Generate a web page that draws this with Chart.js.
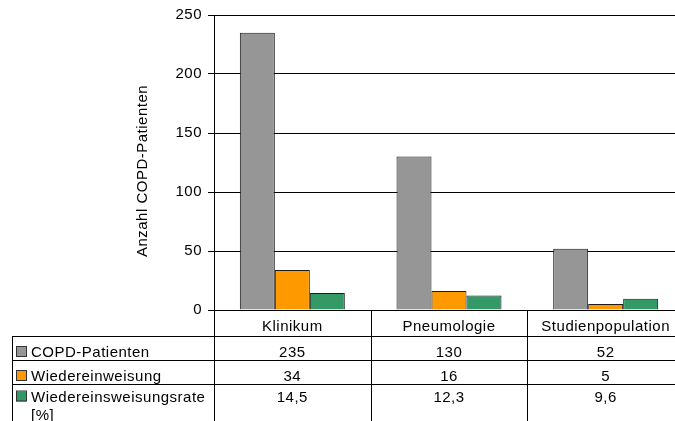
<!DOCTYPE html>
<html><head><meta charset="utf-8">
<script src="https://cdn.jsdelivr.net/npm/chart.js@4/dist/chart.umd.min.js"></script>
<style>
html,body{margin:0;padding:0;background:#fff;overflow:hidden;}
#wrap{width:675px;height:421px;overflow:hidden;position:relative;background:#fff;}
canvas{display:block;}
</style></head><body>
<div id="wrap"><canvas id="c" width="700" height="421" style="width:700px;height:421px"></canvas></div>
<script>
// ---- data ----
const categories = ['Klinikum', 'Pneumologie', 'Studienpopulation'];
const seriesNames = ['COPD-Patienten', 'Wiedereinweisung', 'Wiedereinsweisungsrate [%]'];
const copdPatienten = [235, 130, 52];
const wiedereinweisung = [34, 16, 5];
const wiedereinweisungsrate = [14.5, 12.3, 9.6];
const yTicks = [0, 50, 100, 150, 200, 250];
const yTitle = 'Anzahl COPD-Patienten';

// ---- style ----
const colors = ['#969696', '#FF9900', '#339966'];
const FAMILY = '"Liberation Sans", Arial, sans-serif';
const FSIZE = 15;
const FONT = FSIZE + 'px ' + FAMILY;
const LS = '0.5px';
const seriesData = [copdPatienten, wiedereinweisung, wiedereinweisungsrate];
const fmt = v => String(v).replace('.', ',');

function wrapText(ctx, text, maxW) {
  const words = text.split(' ');
  const lines = [];
  let cur = '';
  for (const w of words) {
    const t = cur ? cur + ' ' + w : w;
    if (ctx.measureText(t).width > maxW && cur) { lines.push(cur); cur = w; }
    else cur = t;
  }
  if (cur) lines.push(cur);
  return lines;
}

const tablePlugin = {
  id: 'dataTable',
  beforeDraw(chart) { chart.ctx.letterSpacing = LS; },
  afterDraw(chart) {
    const ctx = chart.ctx, xs = chart.scales.x, area = chart.chartArea;
    const H = chart.height;
    const n = categories.length;
    const half = (xs.getPixelForValue(1) - xs.getPixelForValue(0)) / 2;
    const bounds = [];
    for (let i = 0; i < n; i++) bounds.push(xs.getPixelForValue(i) - half);
    bounds.push(xs.getPixelForValue(n - 1) + half);
    const tableLeft = 12;
    const headerBottom = area.bottom + 26;
    const rowTops = [headerBottom, headerBottom + 24, headerBottom + 47.5];
    const crisp = v => Math.round(v) + 0.5;

    ctx.save();
    ctx.letterSpacing = LS;
    ctx.strokeStyle = '#000';
    ctx.lineWidth = 1;
    ctx.beginPath();
    for (const b of bounds) { ctx.moveTo(crisp(b), area.bottom); ctx.lineTo(crisp(b), H); }
    ctx.moveTo(crisp(tableLeft), rowTops[0]); ctx.lineTo(crisp(tableLeft), H);
    for (const y of rowTops) { ctx.moveTo(tableLeft, crisp(y)); ctx.lineTo(bounds[n], crisp(y)); }
    ctx.stroke();

    ctx.font = FONT;
    ctx.fillStyle = '#000';
    ctx.textBaseline = 'alphabetic';
    const baseOff = 21;
    for (let r = 0; r < seriesNames.length; r++) {
      const top = rowTops[r];
      const base = top + baseOff - (r === 2 ? 3 : 0);
      ctx.fillStyle = colors[r];
      ctx.fillRect(16, base - 10, 10, 10);
      ctx.strokeStyle = '#333';
      ctx.strokeRect(16.5, base - 10.5, 10, 10);
      ctx.fillStyle = '#000';
      ctx.textAlign = 'left';
      const lines = wrapText(ctx, seriesNames[r], bounds[0] - 31 - 4);
      lines.forEach((ln, k) => ctx.fillText(ln, 31, base + k * 18));
      ctx.textAlign = 'center';
      for (let i = 0; i < n; i++) ctx.fillText(fmt(seriesData[r][i]), xs.getPixelForValue(i), base);
    }

    ctx.translate(143, 171);
    ctx.rotate(-Math.PI / 2);
    ctx.textAlign = 'center';
    ctx.textBaseline = 'middle';
    ctx.fillText(yTitle, 0, 0);
    ctx.restore();
  }
};

new Chart(document.getElementById('c'), {
  type: 'bar',
  data: {
    labels: categories,
    datasets: seriesNames.map((name, i) => ({
      label: name,
      data: seriesData[i],
      backgroundColor: colors[i],
      borderColor: '#1a1a1a',
      borderWidth: 1,
      borderSkipped: 'bottom'
    }))
  },
  options: {
    responsive: false,
    animation: false,
    events: [],
    layout: { padding: { left: 0, right: 16, top: 15, bottom: 0 } },
    plugins: { legend: { display: false }, tooltip: { enabled: false }, title: { display: false } },
    datasets: { bar: { categoryPercentage: 0.67, barPercentage: 1 } },
    scales: {
      x: {
        grid: { display: false },
        border: { display: true, color: '#000', width: 1 },
        ticks: { color: '#000', font: { family: FAMILY, size: FSIZE }, padding: 0, maxRotation: 0, autoSkip: false },
        afterFit(s) { s.height = 111; }
      },
      y: {
        min: 0, max: 250,
        afterBuildTicks(s) { s.ticks = yTicks.map(v => ({ value: v })); },
        ticks: { color: '#000', font: { family: FAMILY, size: FSIZE }, padding: 6 },
        grid: { color: '#000', lineWidth: 1, tickLength: 6, drawTicks: true },
        border: { display: true, color: '#000', width: 1 },
        afterFit(s) { s.width = 214; }
      }
    }
  },
  plugins: [tablePlugin]
});
</script>
</body></html>
